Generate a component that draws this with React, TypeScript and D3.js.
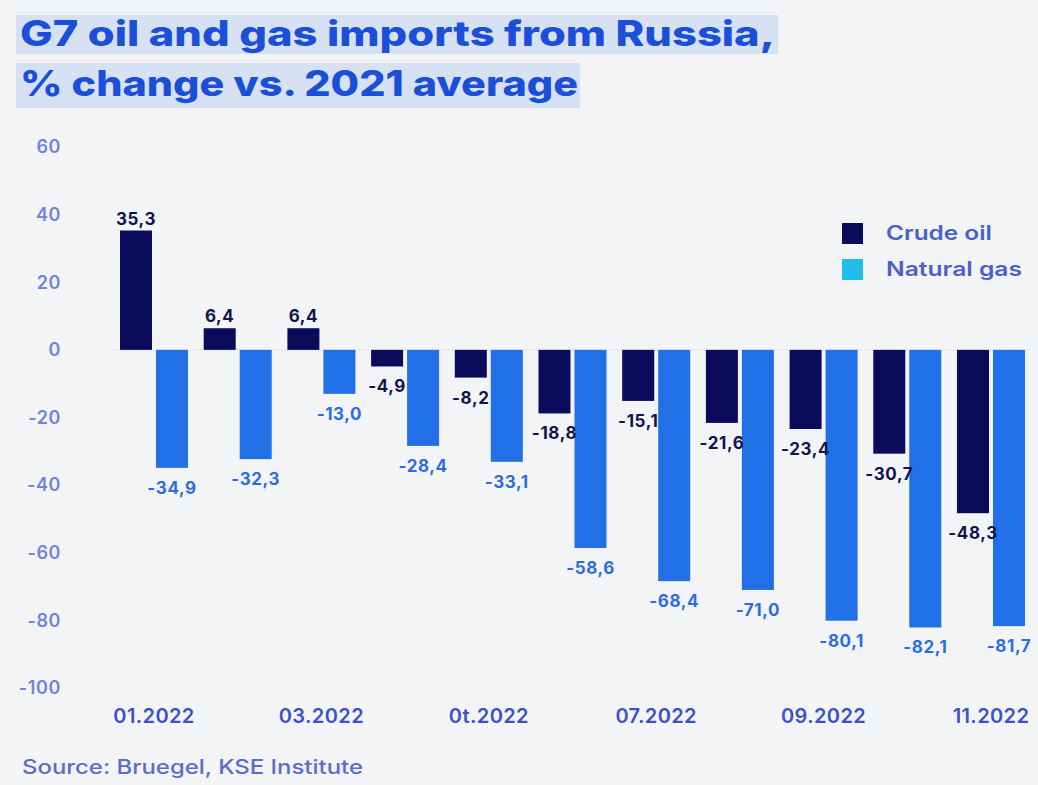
import React from "react";
import * as d3 from "d3";

const months = ["01.2022", "02.2022", "03.2022", "04.2022", "05.2022", "06.2022", "07.2022", "08.2022", "09.2022", "10.2022", "11.2022"];
const crudeOil = [35.3, 6.4, 6.4, -4.9, -8.2, -18.8, -15.1, -21.6, -23.4, -30.7, -48.3];
const naturalGas = [-34.9, -32.3, -13.0, -28.4, -33.1, -58.6, -68.4, -71.0, -80.1, -82.1, -81.7];
const xTickMonths = ["01.2022", "03.2022", "05.2022", "07.2022", "09.2022", "11.2022"];
const xTickLabels = ["01.2022", "03.2022", "0t.2022", "07.2022", "09.2022", "11.2022"];
const yTicks = [60, 40, 20, 0, -20, -40, -60, -80, -100];
const seriesKeys = ["Crude oil", "Natural gas"];
const titleLines = ["G7 oil and gas imports from Russia,", "% change vs. 2021 average"];
const sourceText = "Source: Bruegel, KSE Institute";

const W = 1038;
const H = 785;
const FONT = "Inter, 'Open Sans', sans-serif";

const colors = {
  bg: "#f3f4f6",
  crude: "#0b0b5c",
  gas: "#2170e8",
  gasLegend: "#22bde8",
  crudeLabel: "#12124e",
  gasLabel: "#2c6de0",
  title: "#1c4fd9",
  titleBg: "#d6e1f3",
  yTick: "#7084dc",
  xTick: "#3a52c6",
  legendText: "#4a60cc",
  source: "#5b6dcc",
};

const fmt = (v: number) => v.toFixed(1).replace(".", ",");

export default function App() {
  const x = d3.scaleBand<string>().domain(months).range([120, 1025]).paddingInner(0.1875).paddingOuter(0);
  const inner = d3.scaleBand<string>().domain(seriesKeys).range([0, x.bandwidth()]).paddingInner(0.111);
  const y = d3.scaleLinear().domain([-100, 60]).range([688, 147]);

  const series = [
    { key: seriesKeys[0], values: crudeOil, fill: colors.crude, labelColor: colors.crudeLabel },
    { key: seriesKeys[1], values: naturalGas, fill: colors.gas, labelColor: colors.gasLabel },
  ];

  return (
    <svg width={W} height={H} style={{ position: "absolute", left: 0, top: 0, display: "block" }}>
      <rect x={0} y={0} width={W} height={H} fill={colors.bg} />

      {/* Title with highlight */}
      <rect x={16} y={15} width={762} height={39} fill={colors.titleBg} />
      <rect x={16} y={63} width={564} height={45} fill={colors.titleBg} />
      <text x={20} y={46} fontFamily={FONT} fontWeight={800} fontSize={35} fill={colors.title}
        textLength={755} lengthAdjust="spacingAndGlyphs">{titleLines[0]}</text>
      <text x={20} y={96} fontFamily={FONT} fontWeight={800} fontSize={35} fill={colors.title}
        textLength={558} lengthAdjust="spacingAndGlyphs">{titleLines[1]}</text>

      {/* Y axis tick labels */}
      {yTicks.map((t) => (
        <text key={t} x={61} y={y(t)} dy="0.35em" textAnchor="end" fontFamily={FONT} fontWeight={600}
          fontSize={18} letterSpacing={0.6} fill={colors.yTick}>{t}</text>
      ))}

      {/* faint zero line */}
      <line x1={112} x2={1030} y1={y(0)} y2={y(0)} stroke="#e2e3e8" strokeWidth={1} />

      {/* Bars */}
      {series.map((s) => (
        <g key={s.key}>
          {s.values.map((v, i) => {
            const bx = (x(months[i]) ?? 0) + (inner(s.key) ?? 0);
            const y0 = y(0);
            const yv = y(v);
            return (
              <rect key={i} x={bx} y={Math.min(y0, yv)} width={inner.bandwidth()} height={Math.abs(yv - y0)} fill={s.fill} />
            );
          })}
        </g>
      ))}

      {/* Value labels */}
      {series.map((s) => (
        <g key={s.key + "-lbl"}>
          {s.values.map((v, i) => {
            const cx = (x(months[i]) ?? 0) + (inner(s.key) ?? 0) + inner.bandwidth() / 2;
            const ly = v >= 0 ? y(v) - 6 : y(v) + 26;
            return (
              <text key={i} x={cx} y={ly} textAnchor="middle" fontFamily={FONT} fontWeight={700}
                fontSize={17} letterSpacing={0.6} fill={s.labelColor}>{fmt(v)}</text>
            );
          })}
        </g>
      ))}

      {/* X axis tick labels */}
      {xTickMonths.map((m, i) => (
        <text key={m} x={(x(m) ?? 0) + x.bandwidth() / 2} y={716} dy="0.35em" textAnchor="middle"
          fontFamily={FONT} fontWeight={600} fontSize={20} letterSpacing={0.4} fill={colors.xTick}>{xTickLabels[i]}</text>
      ))}

      {/* Legend */}
      <rect x={842} y={223} width={21} height={21} fill={colors.crude} />
      <text x={886} y={233} dy="0.35em" fontFamily={FONT} fontWeight={600} fontSize={20}
        textLength={106} lengthAdjust="spacingAndGlyphs" fill={colors.legendText}>{seriesKeys[0]}</text>
      <rect x={842} y={259} width={21} height={21} fill={colors.gasLegend} />
      <text x={886} y={269} dy="0.35em" fontFamily={FONT} fontWeight={600} fontSize={20}
        textLength={136} lengthAdjust="spacingAndGlyphs" fill={colors.legendText}>{seriesKeys[1]}</text>

      {/* Source */}
      <text x={22} y={767} dy="0.35em" fontFamily={FONT} fontWeight={500} fontSize={20}
        textLength={341} lengthAdjust="spacingAndGlyphs" fill={colors.source}>{sourceText}</text>
    </svg>
  );
}
